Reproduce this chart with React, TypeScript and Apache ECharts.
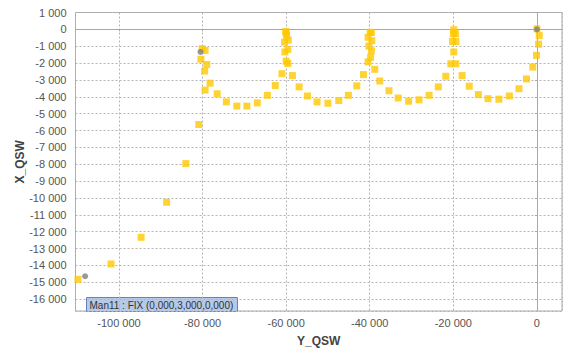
import React, { useEffect, useRef } from "react";
import * as echarts from "echarts";

// Y_QSW (horizontal) and X_QSW (vertical) values of the yellow square points
const yQsw = [
  -109800, -101900, -94700, -88600, -84000, -80900, -80100, -79400, -80400, -79000,
  -79500, -79400, -78200, -76500, -74300, -71800, -69400, -66900, -64500, -62600,
  -61000, -60000, -59600, -60300, -59600, -60400, -59500, -60000, -59900, -60100,
  -58500, -56900, -54900, -52600, -50000, -47400, -45100, -43100, -41500, -40400,
  -39800, -39600, -40200, -39500, -40400, -39900, -39600, -38800, -37600, -35400,
  -33200, -30700, -28200, -25800, -23600, -21800, -20600, -19400, -19900, -20200,
  -19400, -20000, -19500, -19900, -17900, -16200, -14000, -11700, -9100, -6600,
  -4300, -2500, -1000, -100, 400, 550, 0,
];
const xQsw = [
  -14820, -13910, -12330, -10250, -7960, -5640, -1150, -1250, -1770, -2080,
  -2470, -3600, -3190, -3820, -4300, -4550, -4550, -4360, -3910, -3330,
  -2630, -1890, -2020, -1340, -1190, -760, -640, -230, -370, -120,
  -2740, -3410, -3950, -4300, -4380, -4220, -3910, -3350, -2680, -1930,
  -1660, -1270, -990, -670, -470, -180, -180, -2370, -3060, -3640,
  -4070, -4260, -4180, -3910, -3410, -2780, -2040, -2040, -1340, -720,
  -720, -260, -260, -20, -2740, -3370, -3870, -4110, -4140, -3950,
  -3520, -2940, -2240, -1540, -880, -370, 30,
];
// grey circle points
const grayY = [-108100, -80500, 0];
const grayX = [-14640, -1340, 0];

const annotationText = "Man11 : FIX (0,000,3,000,0,000)";

const fmt = (v: number) => {
  const s = Math.abs(Math.round(v))
    .toString()
    .replace(/\B(?=(\d{3})+(?!\d))/g, " ");
  return (v < 0 ? "-" : "") + s;
};

export default function App() {
  const ref = useRef<HTMLDivElement>(null);
  useEffect(() => {
    if (!ref.current) return;
    const chart = echarts.init(ref.current, undefined, { renderer: "svg" });
    const font = "'Liberation Sans', Arial, sans-serif";
    const labelStyle = { color: "#555", fontSize: 11, fontFamily: font };
    const split = { show: true, lineStyle: { color: "#b4b4b4", type: [2, 2] as any, width: 1 } };
    chart.setOption({
      animation: false,
      backgroundColor: "#fff",
      grid: {
        left: 75.5,
        right: 1,
        top: 12.5,
        bottom: 36.3,
        show: true,
        borderColor: "#a8a8a8",
        borderWidth: 1,
        backgroundColor: "#fff",
      },
      xAxis: {
        type: "value",
        min: -110400,
        max: 6000,
        splitNumber: 5,
        name: "Y_QSW",
        nameLocation: "middle",
        nameGap: 24,
        nameMoveOverlap: false,
        nameTextStyle: { color: "#444", fontSize: 12, fontWeight: "bold", fontFamily: font },
        axisLine: { show: true, lineStyle: { color: "#a8a8a8" } },
        axisTick: { show: true, length: 2, lineStyle: { color: "#a8a8a8" } },
        axisLabel: { ...labelStyle, margin: 6, formatter: fmt, showMinLabel: false, showMaxLabel: false },
        splitLine: split,
      },
      yAxis: {
        type: "value",
        min: -16700,
        max: 1000,
        splitNumber: 17,
        name: "X_QSW",
        nameLocation: "middle",
        nameGap: 50,
        nameMoveOverlap: false,
        nameTextStyle: { color: "#444", fontSize: 12, fontWeight: "bold", fontFamily: font },
        axisLine: { show: true, lineStyle: { color: "#a8a8a8" } },
        axisTick: { show: true, length: 2, lineStyle: { color: "#a8a8a8" } },
        axisLabel: { ...labelStyle, margin: 9, formatter: fmt, showMinLabel: false },
        splitLine: split,
      },
      series: [
        {
          type: "scatter",
          symbol: "rect",
          symbolSize: 7,
          itemStyle: { color: "#ffc800" },
          data: yQsw.map((v, i) => [v, xQsw[i]]),
          z: 2,
        },
        {
          type: "scatter",
          symbol: "circle",
          symbolSize: 6,
          itemStyle: { color: "#808080" },
          data: grayY.map((v, i) => [v, grayX[i]]),
          z: 3,
        },
      ],
      graphic: [
        {
          type: "group",
          left: 86,
          top: 297,
          children: [
            {
              type: "rect",
              shape: { x: 0, y: 0, width: 151, height: 14 },
              style: { fill: "#b6c9e6", stroke: "#6282c2", lineWidth: 1 },
            },
            {
              type: "text",
              x: 3,
              y: 7.5,
              style: {
                text: annotationText,
                fill: "#333",
                font: "10px 'Liberation Sans', Arial, sans-serif",
                verticalAlign: "middle",
              },
            },
          ],
        },
      ],
    });
    return () => chart.dispose();
  }, []);
  return (
    <div
      ref={ref}
      style={{ position: "absolute", left: 0, top: 0, width: 563, height: 352, background: "#fff" }}
    />
  );
}
